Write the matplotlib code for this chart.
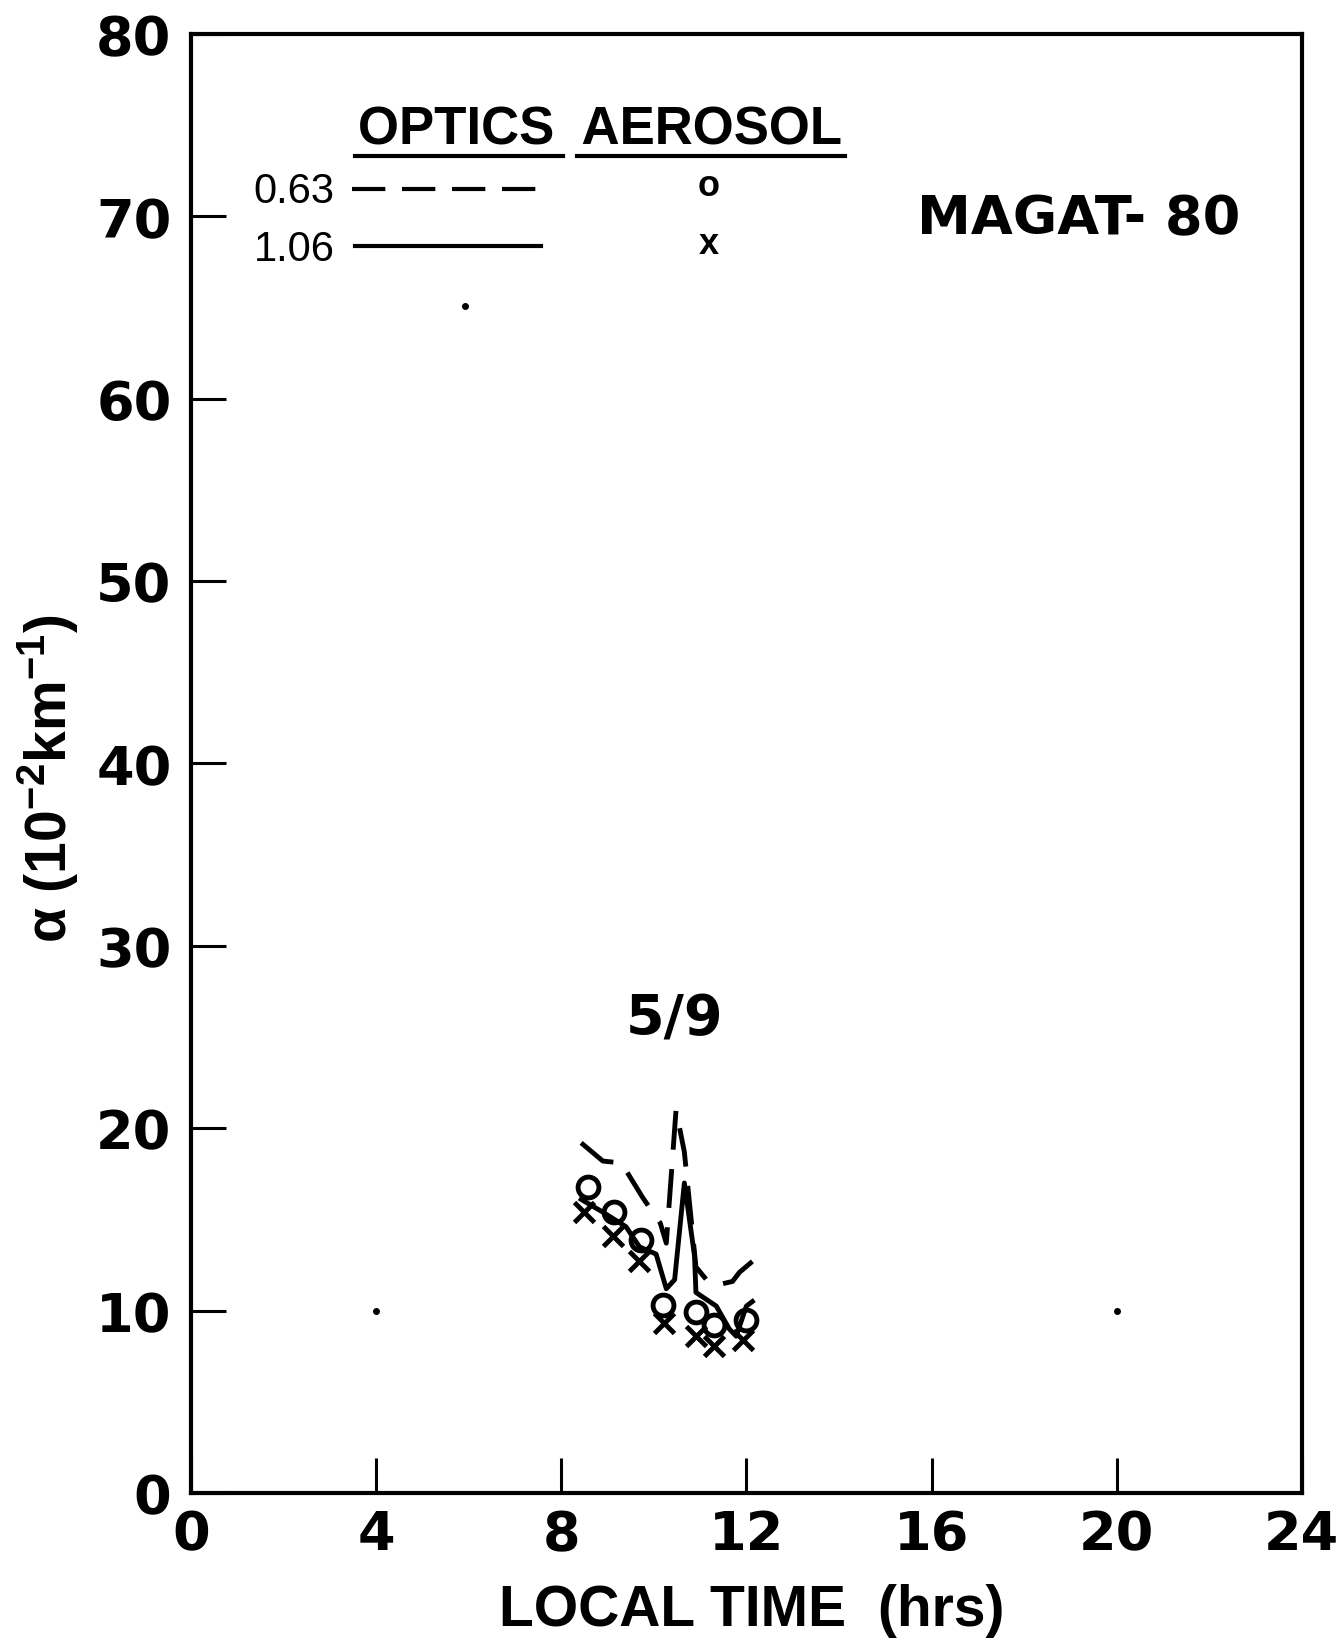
import matplotlib
matplotlib.use("Agg")
import matplotlib.pyplot as plt

plt.rcParams['font.family'] = ['Liberation Sans', 'DejaVu Sans']
plt.rcParams['font.weight'] = 'bold'
plt.rcParams['mathtext.fontset'] = 'custom'
plt.rcParams['mathtext.rm'] = 'Liberation Sans:bold'
plt.rcParams['mathtext.it'] = 'Liberation Sans:bold'
plt.rcParams['mathtext.bf'] = 'Liberation Sans:bold'

# optics, 0.63 um (dashed)
t_063 = [8.43, 8.9, 9.3, 9.76, 10.14, 10.27, 10.48, 10.66, 10.91, 11.2, 11.35, 11.7, 11.85, 12.13]
a_063 = [19.2, 18.2, 18.1, 16.2, 14.8, 13.7, 21.0, 18.7, 12.4, 11.5, 11.4, 11.6, 12.1, 12.7]

# optics, 1.06 um (solid)
t_106 = [8.43, 8.9, 9.4, 9.69, 10.05, 10.27, 10.45, 10.66, 10.88, 10.91, 11.35, 11.63, 11.78, 12.0, 12.13]
a_106 = [16.1, 15.4, 14.6, 13.5, 13.1, 11.2, 11.7, 17.0, 13.0, 11.0, 10.25, 9.0, 8.6, 10.25, 10.5]

# aerosol samples
t_o = [8.57, 9.15, 9.73, 10.19, 10.91, 11.31, 11.99]
a_o = [16.8, 15.4, 13.9, 10.3, 9.9, 9.2, 9.5]
t_x = [8.5, 9.11, 9.69, 10.23, 10.91, 11.31, 11.92]
a_x = [15.4, 14.1, 12.7, 9.3, 8.6, 8.06, 8.4]

# stray dots on the original sheet
dot_t = [5.92, 4.0, 20.0]
dot_a = [65.1, 10.0, 10.0]

xticks = [0, 4, 8, 12, 16, 20, 24]
yticks = [0, 10, 20, 30, 40, 50, 60, 70, 80]

wide = ['DejaVu Sans']

fig = plt.figure(figsize=(13.4, 16.4), dpi=100)
ax = fig.add_axes([0.1425, 0.089, 0.829, 0.8897])

ax.plot(t_063, a_063, color='black', lw=3.5, ls=(0, (8, 4)))
ax.plot(t_106, a_106, color='black', lw=3.5)
ax.plot(t_o, a_o, ls='none', marker='o', ms=15, mfc='none', mec='black', mew=3.5)
ax.plot(t_x, a_x, ls='none', marker='x', ms=14, mec='black', mew=3.5)
ax.plot(dot_t, dot_a, ls='none', marker='o', ms=4, color='black')

ax.set_xlim(0, 24)
ax.set_ylim(0, 80)
ax.set_xticks(xticks)
ax.set_yticks(yticks)
ax.tick_params(direction='in', length=25, width=2.2, labelsize=39, color='black')
ax.tick_params(axis='x', pad=11)
ax.tick_params(axis='y', pad=14)
for lab in ax.get_xticklabels() + ax.get_yticklabels():
    lab.set_family(wide)
    lab.set_weight('bold')
for side in ax.spines.values():
    side.set_linewidth(3)

ax.set_ylabel(r'$\alpha$ (10$^{-2}$km$^{-1}$)', fontsize=41, fontweight='bold')
ax.yaxis.set_label_coords(-0.099, 0.49)
ax.text(0.505, -0.08, 'LOCAL TIME  (hrs)', transform=ax.transAxes,
        ha='center', va='center', fontsize=41, fontweight='bold')

# legend drawn by hand
ax.text(8.83, 74.0, 'OPTICS  AEROSOL', ha='center', va='baseline', fontsize=38)
ax.plot([3.55, 8.03], [73.3, 73.3], color='black', lw=3)
ax.plot([8.35, 14.12], [73.3, 73.3], color='black', lw=3)
ax.text(3.1, 71.4, '0.63', ha='right', va='center', fontsize=30, fontweight='normal')
ax.text(3.1, 68.2, '1.06', ha='right', va='center', fontsize=30, fontweight='normal')
ax.plot([3.48, 7.55], [71.5, 71.5], color='black', lw=3, ls=(0, (8, 4)))
ax.plot([3.55, 7.57], [68.4, 68.4], color='black', lw=3)
ax.text(11.18, 71.7, 'o', ha='center', va='center', fontsize=26)
ax.text(11.18, 68.5, 'x', ha='center', va='center', fontsize=26)

ax.text(19.19, 69.9, 'MAGAT- 80', ha='center', va='center', fontsize=39, family=wide)
ax.text(10.45, 26.0, '5/9', ha='center', va='center', fontsize=40, family=wide)

fig.savefig('out.png', dpi=100)
